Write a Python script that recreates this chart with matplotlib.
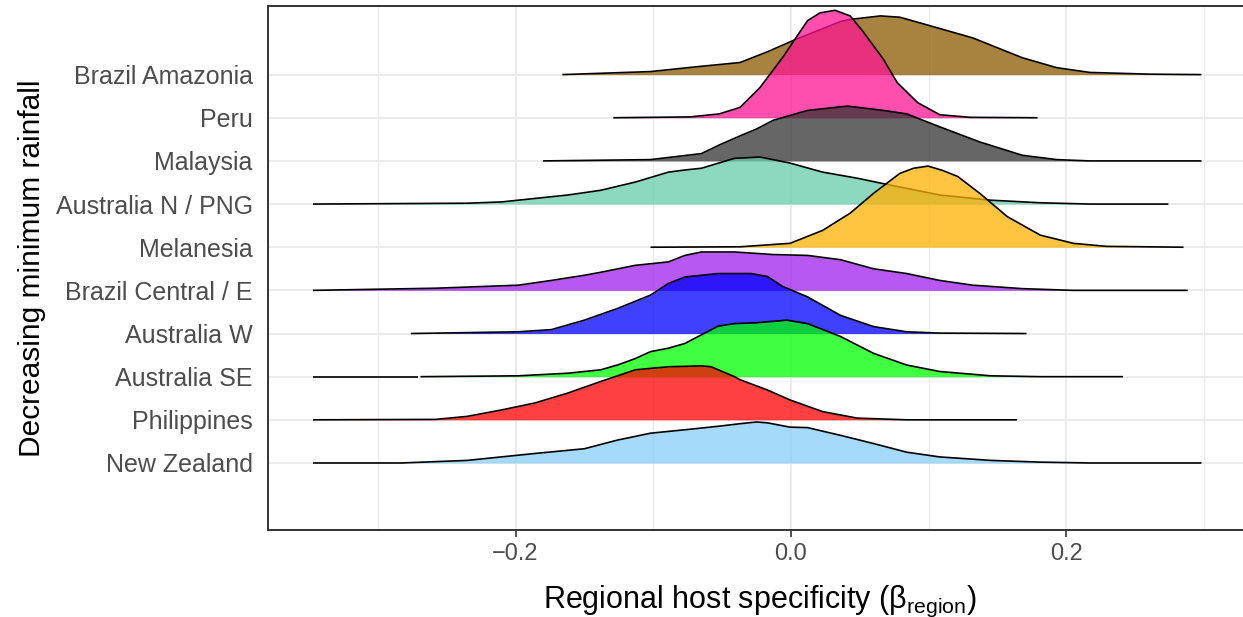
import matplotlib
matplotlib.use("Agg")
import matplotlib.pyplot as plt

plt.rcParams['font.family'] = ['Liberation Sans', 'DejaVu Sans']
plt.rcParams['mathtext.fontset'] = 'custom'
plt.rcParams['mathtext.rm'] = 'Liberation Sans'
plt.rcParams['mathtext.it'] = 'Liberation Sans'

# regions, bottom to top
regions = ["New Zealand", "Philippines", "Australia SE", "Australia W",
           "Brazil Central / E", "Melanesia", "Australia N / PNG",
           "Malaysia", "Peru", "Brazil Amazonia"]

colors = ["#87CEFA", "#FF0000", "#00FF00", "#0000FF", "#A020F0",
          "#FFB000", "#66CDAA", "#333333", "#FF1493", "#8B5A00"]

# density curves (x = beta_region, h = ridge height)
nz_x = [-0.347, -0.283, -0.235, -0.186, -0.150, -0.126, -0.102, -0.077, -0.053, -0.037, -0.025,
        -0.017, -0.0007, 0.012, 0.036, 0.060, 0.084, 0.108, 0.145, 0.181, 0.217, 0.298]
nz_h = [0, 0, 0.06, 0.22, 0.33, 0.53, 0.69, 0.77, 0.85, 0.91, 0.95,
        0.93, 0.83, 0.82, 0.64, 0.45, 0.25, 0.14, 0.06, 0.02, 0, 0]

ph_x = [-0.347, -0.258, -0.235, -0.210, -0.186, -0.162, -0.138, -0.113, -0.089, -0.065, -0.058,
        -0.041, -0.037, -0.017, -0.0007, 0.023, 0.048, 0.084, 0.164]
ph_h = [0, 0.01, 0.08, 0.23, 0.39, 0.62, 0.89, 1.16, 1.23, 1.25, 1.23,
        1.00, 0.93, 0.69, 0.46, 0.19, 0.04, 0, 0]

se_x = [-0.269, -0.198, -0.162, -0.138, -0.126, -0.113, -0.102, -0.089, -0.077, -0.065, -0.053,
        -0.041, -0.025, -0.003, 0.012, 0.036, 0.060, 0.084, 0.108, 0.145, 0.181, 0.241]
se_h = [0, 0.02, 0.08, 0.16, 0.27, 0.42, 0.58, 0.66, 0.77, 0.97, 1.17,
        1.23, 1.25, 1.31, 1.23, 0.93, 0.54, 0.27, 0.12, 0.02, 0, 0]
se_tail = [-0.347, -0.271]  # separate flat piece left of the curve

aw_x = [-0.276, -0.198, -0.174, -0.150, -0.126, -0.102, -0.089, -0.077, -0.053, -0.029,
        -0.017, -0.006, 0.012, 0.036, 0.060, 0.084, 0.108, 0.171]
aw_h = [0, 0.04, 0.09, 0.31, 0.58, 0.89, 1.16, 1.31, 1.39, 1.39,
        1.32, 1.09, 0.85, 0.42, 0.16, 0.04, 0.01, 0]

bc_x = [-0.347, -0.258, -0.198, -0.174, -0.150, -0.138, -0.113, -0.089, -0.077, -0.065, -0.041,
        -0.013, 0.012, 0.036, 0.060, 0.084, 0.108, 0.132, 0.168, 0.205, 0.288]
bc_h = [0, 0.05, 0.12, 0.23, 0.35, 0.42, 0.58, 0.66, 0.81, 0.89, 0.89,
        0.83, 0.81, 0.71, 0.50, 0.39, 0.23, 0.12, 0.04, 0, 0]

me_x = [-0.102, -0.037, -0.0007, 0.023, 0.043, 0.060, 0.079, 0.089, 0.0995, 0.110, 0.121,
        0.137, 0.157, 0.181, 0.205, 0.229, 0.285]
me_h = [0, 0.01, 0.09, 0.39, 0.79, 1.25, 1.71, 1.83, 1.88, 1.78, 1.64,
        1.25, 0.71, 0.28, 0.09, 0.02, 0]

an_x = [-0.347, -0.235, -0.210, -0.162, -0.138, -0.113, -0.089, -0.077, -0.065, -0.041, -0.0225,
        -0.0007, 0.023, 0.048, 0.072, 0.108, 0.145, 0.181, 0.217, 0.274]
an_h = [0, 0.02, 0.05, 0.21, 0.32, 0.51, 0.74, 0.79, 0.83, 1.06, 1.09,
        0.95, 0.74, 0.60, 0.44, 0.21, 0.09, 0.03, 0, 0]

ma_x = [-0.180, -0.102, -0.065, -0.052, -0.037, -0.025, -0.013, 0.012, 0.041, 0.067, 0.084,
        0.108, 0.137, 0.168, 0.193, 0.217, 0.298]
ma_h = [0, 0.03, 0.17, 0.37, 0.58, 0.74, 0.94, 1.17, 1.27, 1.17, 1.09,
        0.79, 0.44, 0.13, 0.03, 0, 0]

pe_x = [-0.129, -0.073, -0.052, -0.037, -0.0225, -0.006, 0.012, 0.021, 0.032, 0.043, 0.052,
        0.067, 0.077, 0.092, 0.108, 0.130, 0.179]
pe_h = [0, 0.02, 0.09, 0.24, 0.70, 1.40, 2.25, 2.43, 2.49, 2.36, 2.01,
        1.36, 0.82, 0.35, 0.07, 0.01, 0]

ba_x = [-0.166, -0.102, -0.066, -0.037, -0.017, 0.003, 0.036, 0.043, 0.065, 0.079, 0.099,
        0.132, 0.168, 0.193, 0.217, 0.261, 0.298]
ba_h = [0, 0.07, 0.19, 0.28, 0.53, 0.81, 1.23, 1.28, 1.36, 1.33, 1.15,
        0.85, 0.39, 0.16, 0.05, 0.01, 0]

curves = [(nz_x, nz_h), (ph_x, ph_h), (se_x, se_h), (aw_x, aw_h), (bc_x, bc_h),
          (me_x, me_h), (an_x, an_h), (ma_x, ma_h), (pe_x, pe_h), (ba_x, ba_h)]

fig = plt.figure(figsize=(12.43, 6.17), dpi=100)
ax = fig.add_axes([268 / 1243, 1 - 530 / 617, (1252 - 268) / 1243, (530 - 6) / 617])

# grid
ax.set_xlim(-0.3797, 0.3347)
ax.set_ylim(-0.553, 11.59)
for gx in [-0.3, -0.1, 0.1, 0.3]:
    ax.axvline(gx, color="#EBEBEB", lw=0.8, zorder=0)
for gx in [-0.2, 0.0, 0.2]:
    ax.axvline(gx, color="#EBEBEB", lw=1.5, zorder=0)
for i in range(len(regions)):
    ax.axhline(i + 1, color="#EBEBEB", lw=1.5, zorder=0)

# ridges: upper ones first, lower ones drawn on top
for i in range(len(regions) - 1, -1, -1):
    xs, hs = curves[i]
    base = i + 1
    ys = [base + h for h in hs]
    z = 2 + (len(regions) - i) * 2
    ax.fill_between(xs, base, ys, color=colors[i], alpha=0.75, lw=0, zorder=z)
    ax.plot(xs, ys, color="black", lw=1.2, zorder=z + 1, solid_capstyle="butt",
            solid_joinstyle="round")
    if regions[i] == "Australia SE":
        ax.plot(se_tail, [base, base], color="black", lw=1.2, zorder=z + 1,
                solid_capstyle="butt")

ax.set_yticks(range(1, len(regions) + 1))
ax.set_yticklabels(regions, fontsize=18, color="#4D4D4D")
ax.tick_params(axis="y", length=0, pad=11)

ax.set_xticks([-0.2, 0.0, 0.2])
ax.set_xticklabels(["\u22120.2", "0.0", "0.2"], fontsize=17, color="#4D4D4D")
ax.tick_params(axis="x", length=5, width=1.2, color="#333333", pad=4)

for s in ["left", "bottom", "top"]:
    ax.spines[s].set_color("#333333")
    ax.spines[s].set_linewidth(1.4)
ax.spines["right"].set_visible(False)

ax.set_xlabel(r"Regional host specificity ($\beta_{\mathrm{region}}$)", fontsize=22,
              labelpad=14)
ax.set_ylabel("Decreasing minimum rainfall", fontsize=21.5, labelpad=7)

fig.savefig("out.png", dpi=100)
